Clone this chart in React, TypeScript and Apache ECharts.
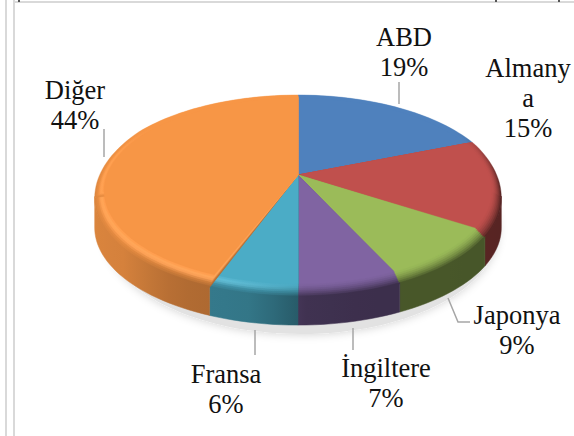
import React, { useEffect, useRef } from "react";
import * as echarts from "echarts";

const categories = ["ABD", "Almanya", "Japonya", "İngiltere", "Fransa", "Diğer"];
const shares = [19, 15, 9, 7, 6, 44];
const labelTexts = ["ABD\n19%", "Almany\na\n15%", "Japonya\n9%", "İngiltere\n7%", "Fransa\n6%", "Diğer\n44%"];
const colors = ["#4f81bd", "#c0504d", "#9bbb59", "#8064a2", "#4bacc6", "#f79646"];

const labelCenters = [[404, 52], [528, 98], [517, 330], [386, 383], [226, 389], [75, 105]];
const leaders = [
  [[399, 82], [399, 104]],
  [],
  [[448, 298], [458, 322], [470, 322]],
  [[353, 328], [353, 350]],
  [[255, 330], [255, 355]],
  [[104, 129], [104, 157]],
];
const titleSpecks = [18, 495, 558];

// projected-circle geometry of the pie's top face
const CX = 298, CY = 175, A = 200, B = 94.4, K = 0.18;
const FLAT_R = 0.955, RIM_DY = 7, DEPTH = 35;
const CUTS = [100, 260];

const rad = (d: number) => (d * Math.PI) / 180;
const project = (deg: number, r: number, dy: number) => {
  const u = r * Math.sin(rad(deg));
  const v = r * Math.cos(rad(deg));
  const w = 1 + K * v;
  return [CX + (A * u) / w, CY - (B * v) / w + dy];
};
const interp = (pts: number[][], x: number) => {
  if (x <= pts[0][0]) return pts[0][1];
  for (let i = 1; i < pts.length; i++) {
    if (x <= pts[i][0]) {
      const [x0, y0] = pts[i - 1];
      const [x1, y1] = pts[i];
      return y0 + ((y1 - y0) * (x - x0)) / (x1 - x0);
    }
  }
  return pts[pts.length - 1][1];
};
const SHADE = [[95, 0.45], [165, 0.47], [178, 0.5], [190, 0.68], [210, 0.72], [230, 0.86], [270, 0.9]];
const VIS = [[62, 0], [95, 1], [265, 1], [305, 0]];
const GLOW = [[178, 0], [196, 0.3], [250, 0.22], [285, 0.15], [305, 0]];
const FRONT = [[70, 0], [110, 1], [250, 1], [300, 0]];

const hex = (c: string) => [1, 3, 5].map((i) => parseInt(c.slice(i, i + 2), 16));
const rgb = (c: number[]) => `rgb(${c.map((v) => Math.round(Math.min(255, Math.max(0, v)))).join(",")})`;
const rimColor = (base: string, deg: number, t: number) => {
  const c = hex(base);
  const shade = 1 - Math.pow(t, 1.6) * (1 - interp(SHADE, deg)) * interp(VIS, deg);
  const bump = Math.max(0, 1 - Math.abs(t - 0.35) / 0.35);
  const g = interp(GLOW, deg) * bump;
  return rgb(c.map((v) => v * shade + 95 * g));
};
const wallColor = (base: string, deg: number) => {
  const s = interp(SHADE, deg);
  return rgb(hex(base).map((v) => v * s));
};
const sweep = (a0: number, a1: number) => {
  const out: number[] = [];
  const n = Math.max(2, Math.ceil((a1 - a0) / 2));
  for (let i = 0; i <= n; i++) out.push(a0 + ((a1 - a0) * i) / n);
  return out;
};
// Global horizontal gradient following the angle along an arc that is monotonic in x
const gradient = (a0: number, a1: number, colorAt: (deg: number) => string) => {
  const x0 = project(a0, 1, 0)[0];
  const x1 = project(a1, 1, 0)[0];
  const stops = sweep(a0, a1)
    .filter((_, i) => i % 3 === 0)
    .concat(a1)
    .map((d) => ({ offset: Math.min(1, Math.max(0, (project(d, 1, 0)[0] - x0) / ((x1 - x0) || 1))), color: colorAt(d) }))
    .sort((p, q) => p.offset - q.offset);
  return { type: "linear", x: x0, y: 0, x2: x1, y2: 0, global: true, colorStops: stops };
};
const rimDy = (deg: number, t: number) => RIM_DY * t * interp(FRONT, deg);

const renderSlice = (params: any, api: any) => {
  const i = params.dataIndex;
  const total = shares.reduce((s, v) => s + v, 0);
  const before = shares.slice(0, i).reduce((s, v) => s + v, 0);
  const start = (before / total) * 360;
  const end = start + (api.value(0) / total) * 360;
  const color = colors[i];
  const children: any[] = [];
  const cuts = [start, ...CUTS.filter((c) => c > start && c < end), end];
  for (let c = 0; c < cuts.length - 1; c++) {
    const a0 = cuts[c], a1 = cuts[c + 1];
    const arc = sweep(a0, a1);
    if (a0 >= 100 && a1 <= 260) {
      const pts = [...arc.map((d) => project(d, 1, rimDy(d, 0.8))), ...arc.slice().reverse().map((d) => project(d, 1, DEPTH))];
      const fill = gradient(a0, a1, (d) => wallColor(color, d));
      children.push({ type: "polygon", shape: { points: pts }, style: { fill, stroke: fill, lineWidth: 0.5 }, silent: true });
    }
    const BANDS = 7;
    for (let b = BANDS - 1; b >= 0; b--) {
      const t1 = (b + 1) / BANDS;
      const r1 = FLAT_R + (1 - FLAT_R) * t1;
      const pts = [[CX, CY], ...arc.map((d) => project(d, r1, rimDy(d, t1)))];
      const fill = gradient(a0, a1, (d) => rimColor(color, d, t1));
      children.push({ type: "polygon", shape: { points: pts }, style: { fill, stroke: fill, lineWidth: 0.4 }, silent: true });
    }
  }
  const flat = [[CX, CY], ...sweep(start, end).map((d) => project(d, FLAT_R, 0))];
  children.push({ type: "polygon", shape: { points: flat }, style: { fill: color, stroke: color, lineWidth: 0.4 }, silent: true });
  return { type: "group", children };
};

export default function App() {
  const ref = useRef<HTMLDivElement>(null);
  useEffect(() => {
    document.body.style.margin = "0";
    const chart = echarts.init(ref.current!, undefined, { renderer: "svg" });
    const data = shares.map((v, i) => ({ name: categories[i], value: [v] }));
    chart.setOption({
      animation: false,
      backgroundColor: "#ffffff",
      graphic: [
        { type: "rect", z: 0, shape: { x: 5, y: 0, width: 2, height: 436 }, style: { fill: "#d9d9d9" }, silent: true },
        { type: "rect", z: 0, shape: { x: 13, y: 0, width: 2, height: 436 }, style: { fill: "#d9d9d9" }, silent: true },
        { type: "rect", z: 0, shape: { x: 13, y: 1, width: 561, height: 2 }, style: { fill: "#d9d9d9" }, silent: true },
        ...titleSpecks.map((x) => ({
          type: "rect",
          z: 1,
          shape: { x, y: 0, width: 2, height: 2 },
          style: { fill: "#555555" },
          silent: true,
        })),
        {
          type: "ellipse",
          z: 0,
          shape: { cx: 301, cy: 229, rx: 198, ry: 105 },
          style: { fill: "#e2e2e2", shadowBlur: 8, shadowColor: "rgba(0,0,0,0.16)", shadowOffsetY: 1 },
          silent: true,
        },
        ...leaders.filter((l) => l.length).map((l) => ({
          type: "polyline",
          z: 5,
          shape: { points: l },
          style: { stroke: "#a6a6a6", lineWidth: 1.5, fill: "none" },
          silent: true,
        })),
        ...labelTexts.map((t, i) => ({
          type: "text",
          z: 5,
          x: labelCenters[i][0],
          y: labelCenters[i][1],
          style: {
            text: t,
            fill: "#111111",
            fontFamily: "Liberation Serif",
            fontSize: 26.5,
            align: "center",
            verticalAlign: "middle",
            lineHeight: 30,
          },
          silent: true,
        })),
      ],
      series: [{ type: "custom", coordinateSystem: "none", data, renderItem: renderSlice, silent: true, z: 3 }],
    });
    return () => chart.dispose();
  }, []);
  return <div ref={ref} style={{ width: 574, height: 436 }} />;
}
